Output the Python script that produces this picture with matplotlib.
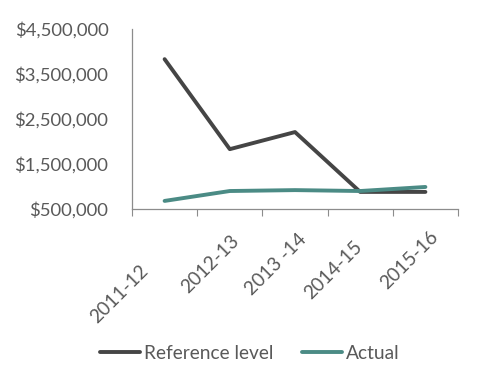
import matplotlib
matplotlib.use("Agg")
import matplotlib.pyplot as plt
import matplotlib.transforms as mtransforms
from matplotlib.ticker import FuncFormatter

# data
years = ["2011-12", "2012-13", "2013 -14", "2014-15", "2015-16"]
reference_level = [3830000, 1830000, 2210000, 880000, 880000]
actual = [680000, 900000, 920000, 900000, 990000]

plt.rcParams['font.family'] = ['Lato', 'DejaVu Sans']

fig = plt.figure(figsize=(5, 3.81), dpi=100)
ax = fig.add_axes([0.264, 0.4514, 0.652, 0.4725])

x = range(len(years))
ax.plot(x, reference_level, color='#454545', lw=2.8, solid_capstyle='round',
        label='Reference level')
ax.plot(x, actual, color='#4b8b85', lw=2.8, solid_capstyle='round',
        label='Actual')

ax.set_xlim(-0.5, len(years) - 0.5)
ax.set_ylim(500000, 4500000)
ax.set_yticks([500000, 1500000, 2500000, 3500000, 4500000])
ax.yaxis.set_major_formatter(FuncFormatter(lambda v, p: f"${v:,.0f}"))
ax.set_xticks([i - 0.5 for i in range(len(years) + 1)])
ax.set_xticklabels([])

# category labels: the source chart places them unevenly, so put them by hand
# (offsets in pixels from the category centre on the axis: right, down)
label_offsets = [(-25, 53), (0, 23), (3, 21), (-7, 29), (4, 19)]
base = mtransforms.blended_transform_factory(ax.transData, ax.transAxes)
for i, (name, (ox, oy)) in enumerate(zip(years, label_offsets)):
    tr = base + mtransforms.ScaledTranslation(ox / 100, -oy / 100,
                                              fig.dpi_scale_trans)
    ax.text(i, 0, name, transform=tr, rotation=45, ha='right', va='top',
            rotation_mode='anchor', fontsize=13.8, color='#595959')

for s in ['top', 'right']:
    ax.spines[s].set_visible(False)
for s in ['left', 'bottom']:
    ax.spines[s].set_color('#8c8c8c')
    ax.spines[s].set_linewidth(0.9)

ax.tick_params(axis='y', length=0, labelsize=13.3, colors='#595959', pad=17)
ax.tick_params(axis='x', length=5, color='#8c8c8c')

leg = fig.legend(loc='lower center', bbox_to_anchor=(0.5, 0.005), ncol=2,
                 frameon=False, fontsize=13.8, handlelength=2.1,
                 handletextpad=0.2, columnspacing=1.5)
for t in leg.get_texts():
    t.set_color('#595959')

fig.savefig("out.png", dpi=100)
